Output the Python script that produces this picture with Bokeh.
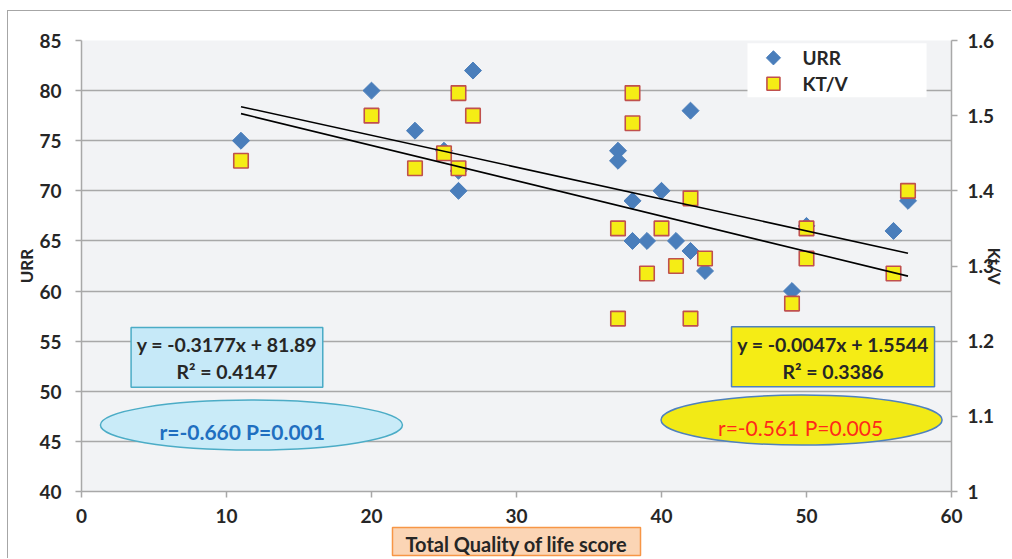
import math
import numpy as np
from bokeh.plotting import figure
from bokeh.models import Range1d, LinearAxis, FixedTicker, Label, Title, ColumnDataSource
from bokeh.embed import file_html
from bokeh.resources import INLINE

# ---------------- data ----------------
qol_urr = [11, 20, 23, 25, 26, 26, 27, 37, 37, 38, 38, 39, 40, 41, 42, 42, 43, 49, 50, 56, 57]
urr = [75, 80, 76, 74, 72, 70, 82, 74, 73, 69, 65, 65, 70, 65, 78, 64, 62, 60, 66.5, 66, 69]

qol_ktv = [11, 20, 23, 25, 26, 26, 27, 37, 37, 38, 38, 39, 40, 41, 42, 42, 43, 49, 50, 50, 56, 57]
ktv = [1.44, 1.50, 1.43, 1.45, 1.53, 1.43, 1.50, 1.35, 1.23, 1.53, 1.49, 1.29, 1.35, 1.30,
       1.39, 1.23, 1.31, 1.25, 1.35, 1.31, 1.29, 1.40]

urr_slope, urr_intercept, urr_r2 = -0.3177, 81.89, 0.4147
ktv_slope, ktv_intercept, ktv_r2 = -0.0047, 1.5544, 0.3386

series_names = ["URR", "KT/V"]
x_ticks = [0, 10, 20, 30, 40, 50, 60]
urr_ticks = [40, 45, 50, 55, 60, 65, 70, 75, 80, 85]
ktv_ticks = [1.0, 1.1, 1.2, 1.3, 1.4, 1.5, 1.6]
ktv_tick_labels = ["1", "1.1", "1.2", "1.3", "1.4", "1.5", "1.6"]

FONT = "Lato"
DARK = "#262626"
GRID = "#a8a8a8"
BLUE = "#4a7ebb"
YELLOW = "#f5ed15"
RED_LINE = "#c0504d"
PAD = "\u00a0" * 3

p = figure(width=1004, height=548, output_backend="svg", toolbar_location=None,
           x_range=Range1d(0, 60), y_range=Range1d(40, 85),
           min_border_left=73, min_border_right=61, min_border_top=29, min_border_bottom=68)
p.styles = {"margin-top": "10px", "margin-left": "7px",
            "border-top": "1px solid #a6a6a6", "border-left": "1px solid #a6a6a6"}
p.extra_y_ranges = {"ktv": Range1d(1.0, 1.6)}
p.background_fill_color = "#f2f3f5"
p.border_fill_color = "white"
p.outline_line_color = None
p.xgrid.visible = False
p.ygrid.grid_line_color = GRID
p.ygrid.grid_line_width = 1.5
p.ygrid.ticker = FixedTicker(ticks=urr_ticks)

right_axis = LinearAxis(y_range_name="ktv", ticker=FixedTicker(ticks=ktv_ticks))
right_axis.major_label_overrides = {t: l for t, l in zip(ktv_ticks, ktv_tick_labels)}
p.add_layout(right_axis, "right")

left_axis = p.yaxis[0]
p.xaxis.ticker = FixedTicker(ticks=x_ticks)
left_axis.ticker = FixedTicker(ticks=urr_ticks)
left_axis.major_label_overrides = {t: f"{t}{PAD}" for t in urr_ticks}

for ax in [p.xaxis[0], left_axis, right_axis]:
    ax.axis_line_color = GRID
    ax.axis_line_width = 1.5
    ax.major_tick_line_color = GRID
    ax.major_tick_line_width = 1.5
    ax.major_tick_out = 6
    ax.major_tick_in = 0
    ax.minor_tick_line_color = None
    ax.major_label_text_font = FONT
    ax.major_label_text_font_style = "bold"
    ax.major_label_text_font_size = "19px"
    ax.major_label_text_color = DARK
    ax.axis_label_text_font = FONT
    ax.axis_label_text_font_style = "bold"
    ax.axis_label_text_font_size = "17px"
    ax.axis_label_text_color = DARK

p.xaxis[0].major_label_standoff = 11
left_axis.major_label_standoff = 0
left_axis.axis_label = "URR"
left_axis.axis_label_standoff = 0
right_axis.major_label_standoff = 10
right_axis.axis_label = "Kt/V"
right_axis.axis_label_standoff = -13

# ---------------- marks ----------------
src_urr = ColumnDataSource(dict(x=qol_urr, y=urr))
src_ktv = ColumnDataSource(dict(x=qol_ktv, y=ktv))

p.scatter("x", "y", source=src_urr, marker="square", angle=math.pi / 4, size=12,
          fill_color=BLUE, line_color=BLUE, line_width=1)
p.scatter("x", "y", source=src_ktv, marker="square", size=14.5, y_range_name="ktv",
          fill_color=YELLOW, line_color=RED_LINE, line_width=1.6)

xl = np.array([min(qol_urr), max(qol_urr)], dtype=float)
p.line(xl, urr_slope * xl + urr_intercept, line_color="black", line_width=1.6)
xk = np.array([min(qol_ktv), max(qol_ktv)], dtype=float)
p.line(xk, ktv_slope * xk + ktv_intercept, line_color="black", line_width=1.6, y_range_name="ktv")

# ---------------- annotation boxes ----------------
p.quad(left=[3.42], right=[16.64], top=[56.37], bottom=[50.39],
       fill_color="#c6e9f8", line_color="#4bacc6", line_width=1.5)
p.ellipse(x=[11.72], y=[46.63], width=[20.83], height=[4.99],
          fill_color="#c9ebf8", line_color="#4bacc6", line_width=1.5)
p.quad(left=[44.83], right=[58.83], top=[56.43], bottom=[50.45],
       fill_color="#f5ec15", line_color="#4f81bd", line_width=1.5)
p.ellipse(x=[49.66], y=[47.13], width=[19.38], height=[4.99],
          fill_color="#f2ea16", line_color="#4f81bd", line_width=1.5)


def txt(x, y, s, color=DARK, size="19.5px", style="bold", align="center"):
    p.add_layout(Label(x=x, y=y, text=s, text_align=align, text_baseline="middle",
                       text_font=FONT, text_font_style=style, text_font_size=size,
                       text_color=color))


txt(10.03, 54.62, f"y = {urr_slope}x + {urr_intercept}")
txt(10.03, 51.93, f"R² = {urr_r2}")
txt(51.83, 54.66, f"y = {ktv_slope}x + {ktv_intercept}")
txt(51.83, 52.0, f"R² = {ktv_r2}")
txt(11.08, 46.03, "r=-0.660 P=0.001", color="#1f6fc0", size="21px")
txt(49.59, 46.43, "r=-0.561 P=0.005", color="#ff2a1a", size="21px", style="normal")

# ---------------- legend (drawn as a keyed box) ----------------
p.quad(left=[45.93], right=[58.28], top=[84.72], bottom=[79.34],
       fill_color="white", line_color=None)
p.scatter([47.72], [83.27], marker="square", angle=math.pi / 4, size=10,
          fill_color=BLUE, line_color=BLUE)
p.scatter([47.72], [80.68], marker="square", size=13, fill_color=YELLOW,
          line_color=RED_LINE, line_width=1.6)
txt(49.72, 83.27, series_names[0], align="left", size="19px")
txt(49.72, 80.68, series_names[1], align="left", size="19px")

# x-axis title in an orange box
p.add_layout(Title(text="Total Quality of life score", align="center",
                   text_font=FONT, text_font_style="bold",
                   text_font_size="20px", text_color=DARK,
                   background_fill_color="#fbd5b5", border_line_color="#f79646",
                   border_line_width=1.5, padding=dict(left=13, right=13, top=4, bottom=0),
                   standoff=0), "below")

open("out.html", "w").write(file_html(p, INLINE))
